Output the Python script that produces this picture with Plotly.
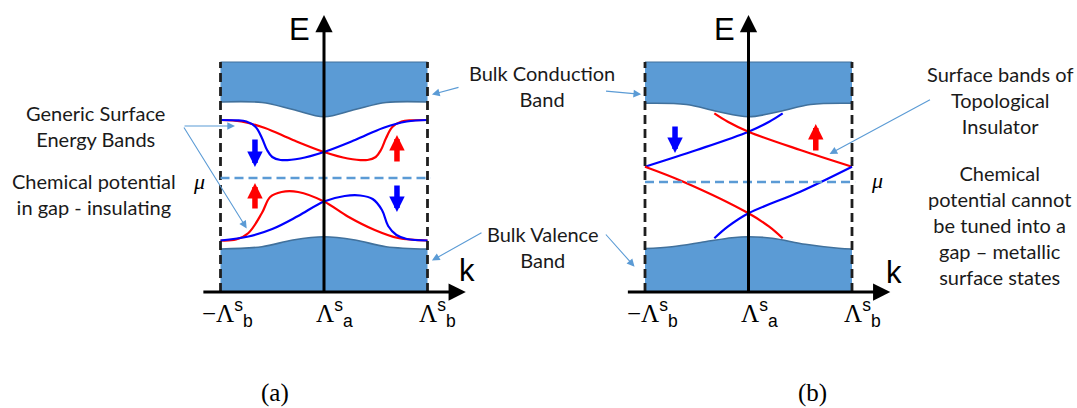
import plotly.graph_objects as go

W, H = 1077, 408

# ---------------- data (k in units of Lambda_b, E in arbitrary units) ----------------
band_top = 2.30
band_floor = 0.0

# panel (a): bulk band edges
k_bulk_a = [-1, -0.6, -0.3, 0, 0.3, 0.6, 1]
cond_edge_a = [1.90, 1.895, 1.825, 1.753, 1.825, 1.895, 1.90]
val_edge_a = [0.43, 0.453, 0.52, 0.553, 0.52, 0.453, 0.43]

# panel (b): bulk band edges
k_cond_b = [-1, -0.6, -0.3, 0, 0.3, 0.6, 1]
cond_edge_b = [1.887, 1.875, 1.805, 1.753, 1.805, 1.875, 1.887]
k_val_b = [-1, -0.74, -0.42, -0.16, 0, 0.23, 0.55, 0.87, 1]
val_edge_b = [0.435, 0.453, 0.503, 0.543, 0.553, 0.537, 0.477, 0.437, 0.43]

# panel (a): generic (trivial) surface bands
k_up_red_a = [-1, -0.8, -0.57, -0.3, 0, 0.23, 0.42, 0.5, 0.55, 0.6, 0.66, 0.75, 0.85, 1]
E_up_red_a = [1.72, 1.705, 1.64, 1.52, 1.40, 1.335, 1.32, 1.35, 1.42, 1.54, 1.65, 1.705, 1.717, 1.72]
k_up_blue_a = [-1, -0.85, -0.75, -0.66, -0.6, -0.55, -0.5, -0.42, -0.23, 0, 0.3, 0.57, 0.8, 1]
E_up_blue_a = [1.72, 1.717, 1.705, 1.65, 1.54, 1.42, 1.35, 1.32, 1.335, 1.40, 1.52, 1.64, 1.705, 1.72]
k_lo_red_a = [-1, -0.85, -0.73, -0.6, -0.52, -0.41, -0.25, 0, 0.23, 0.49, 0.715, 1]
E_lo_red_a = [0.515, 0.525, 0.59, 0.79, 0.95, 1.00, 1.00, 0.905, 0.755, 0.62, 0.54, 0.515]
k_lo_blue_a = [-1, -0.73, -0.5, -0.25, 0, 0.2, 0.35, 0.47, 0.56, 0.62, 0.7, 0.8, 1]
E_lo_blue_a = [0.515, 0.555, 0.63, 0.76, 0.905, 0.96, 0.965, 0.93, 0.82, 0.66, 0.57, 0.53, 0.515]

# panel (b): topological surface bands
k_up_blue_b = [-1, -0.5, 0, 0.2, 0.33]
E_up_blue_b = [1.253, 1.42, 1.603, 1.703, 1.787]
k_up_red_b = [-0.33, -0.2, 0, 0.5, 1]
E_up_red_b = [1.787, 1.703, 1.603, 1.42, 1.253]
k_lo_red_b = [-1, -0.63, 0, 0.2, 0.33]
E_lo_red_b = [1.253, 1.103, 0.787, 0.653, 0.537]
k_lo_blue_b = [-0.33, -0.2, 0, 0.5, 1]
E_lo_blue_b = [0.537, 0.653, 0.787, 1.003, 1.253]

# chemical potentials
mu_a = 1.14
mu_b = 1.10

# spin arrows: (k, E_tail, E_head, colour)
spins_a = [(-0.667, 1.54, 1.25, "#0000ff"), (0.705, 1.29, 1.57, "#ff0000"),
           (-0.667, 0.82, 1.09, "#ff0000"), (0.705, 1.08, 0.80, "#0000ff")]
spins_b = [(-0.71, 1.67, 1.39, "#0000ff"), (0.65, 1.40, 1.68, "#ff0000")]

tick_k = [-1, 0, 1]
tick_text = ["−Λ", "Λ", "Λ"]
tick_sup = ["s", "s", "s"]
tick_sub = ["b", "a", "b"]

BAND_FILL = "#5b9bd5"
BAND_EDGE = "#41719c"
CALLOUT = "#5b9bd5"
TEXT = "#1a1a1a"


def px(x):
    return x / W


def py(y):
    return 1 - y / H


fig = go.Figure()


def add_lines(xa, pairs):
    for k, e, c in pairs:
        fig.add_trace(go.Scatter(x=k, y=e, xaxis=xa, yaxis="y", mode="lines",
                                 line=dict(color=c, width=2.2, shape="spline", smoothing=1),
                                 hoverinfo="skip"))


def add_bands(xa, kc, ec, kv, ev):
    # conduction band: flat top, curved lower edge
    fig.add_trace(go.Scatter(x=[-1, 1], y=[band_top, band_top], xaxis=xa, yaxis="y",
                             mode="lines", line=dict(color=BAND_EDGE, width=1), hoverinfo="skip"))
    fig.add_trace(go.Scatter(x=kc, y=ec, xaxis=xa, yaxis="y", mode="lines", fill="tonexty",
                             fillcolor=BAND_FILL,
                             line=dict(color=BAND_EDGE, width=1.6, shape="spline", smoothing=1),
                             hoverinfo="skip"))
    # valence band: curved upper edge, flat floor
    fig.add_trace(go.Scatter(x=[-1, 1], y=[band_floor, band_floor], xaxis=xa, yaxis="y",
                             mode="lines", line=dict(color=BAND_FILL, width=0), hoverinfo="skip"))
    fig.add_trace(go.Scatter(x=kv, y=ev, xaxis=xa, yaxis="y", mode="lines", fill="tonexty",
                             fillcolor=BAND_FILL,
                             line=dict(color=BAND_EDGE, width=1.6, shape="spline", smoothing=1),
                             hoverinfo="skip"))


def add_frame(xa, mu):
    for kb in (-1, 1):
        fig.add_trace(go.Scatter(x=[kb, kb], y=[band_floor, band_top], xaxis=xa, yaxis="y",
                                 mode="lines", line=dict(color="#1e1e1e", width=2.8, dash="9px,5px"),
                                 hoverinfo="skip"))
    fig.add_trace(go.Scatter(x=[-1, 1.03], y=[mu, mu], xaxis=xa, yaxis="y", mode="lines",
                             line=dict(color=BAND_FILL, width=2.6, dash="9px,5px"),
                             hoverinfo="skip"))


# panel (a)
add_lines("x", [(k_up_red_a, E_up_red_a, "#ff0000"), (k_up_blue_a, E_up_blue_a, "#0000ff"),
                (k_lo_red_a, E_lo_red_a, "#ff0000"), (k_lo_blue_a, E_lo_blue_a, "#0000ff")])
add_bands("x", k_bulk_a, cond_edge_a, k_bulk_a, val_edge_a)
add_frame("x", mu_a)

# panel (b)
add_lines("x2", [(k_up_blue_b, E_up_blue_b, "#0000ff"), (k_up_red_b, E_up_red_b, "#ff0000"),
                 (k_lo_red_b, E_lo_red_b, "#ff0000"), (k_lo_blue_b, E_lo_blue_b, "#0000ff")])
add_bands("x2", k_cond_b, cond_edge_b, k_val_b, val_edge_b)
add_frame("x2", mu_b)

ann = []


def arrow(xa, x, y, ax, ay, color, width, size, head=2):
    ann.append(dict(xref=xa, yref="y", axref=xa, ayref="y", x=x, y=y, ax=ax, ay=ay,
                    text="", showarrow=True, arrowhead=head, arrowsize=size,
                    arrowwidth=width, arrowcolor=color, standoff=0))


for xa in ("x", "x2"):
    # energy and momentum axes
    arrow(xa, 0, 2.77, 0, -0.01, "#000000", 3, 1.15)
    arrow(xa, 1.37, 0, -1.18, 0, "#000000", 3, 1.15)

for k, e0, e1, c in spins_a:
    arrow("x", k, e1, k, e0, c, 5.5, 0.56)
for k, e0, e1, c in spins_b:
    arrow("x2", k, e1, k, e0, c, 5.5, 0.56)

# callout arrows
arrow("x", -0.86, 1.66, -1.362, 1.66, CALLOUT, 1.1, 1.4)
arrow("x", -0.747, 0.635, -1.362, 1.66, CALLOUT, 1.1, 1.4)
arrow("x", 1.043, 1.975, 1.314, 2.05, CALLOUT, 1.1, 1.4)
arrow("x2", -1.037, 1.977, -1.391, 2.01, CALLOUT, 1.1, 1.4)
arrow("x", 1.043, 0.315, 1.536, 0.60, CALLOUT, 1.1, 1.4)
arrow("x2", -1.101, 0.253, -1.391, 0.59, CALLOUT, 1.1, 1.4)
arrow("x2", 0.783, 1.38, 1.768, 1.93, CALLOUT, 1.1, 1.4)


def label(text, x, y, size, family, color=TEXT):
    ann.append(dict(xref="paper", yref="paper", x=px(x), y=py(y), text=text, showarrow=False,
                    xanchor="center", yanchor="middle",
                    font=dict(size=size, family=family, color=color)))


SANS = "Lato"
label("Generic Surface<br>Energy Bands", 95, 126, 20, SANS)
label("Chemical potential<br>in gap - insulating", 94, 194, 20, SANS)
label("Bulk Conduction<br>Band", 542, 86, 20, SANS)
label("Bulk Valence<br>Band", 543, 247, 20, SANS)
label("Surface bands of<br>Topological<br>Insulator", 1000, 99.5, 20, SANS)
label("Chemical<br>potential cannot<br>be tuned into a<br>gap – metallic<br>surface states",
      999, 225, 20, SANS)

label("E", 299, 30, 31, "Liberation Sans", "#000000")
label("E", 724, 30, 31, "Liberation Sans", "#000000")
label("k", 467, 270, 31, "Liberation Sans", "#000000")
label("k", 894, 272, 31, "Liberation Sans", "#000000")
label("<i>μ</i>", 199, 181, 22, "Liberation Serif", "#000000")
label("<i>μ</i>", 877, 180, 22, "Liberation Serif", "#000000")
label("(a)", 275, 393, 25, "Liberation Serif", "#000000")
label("(b)", 812, 393, 25, "Liberation Serif", "#000000")

for xa, shifts in (("x", (7, 10, 10)), ("x2", (7, 11, 10))):
    for k, base, sp, sb, sh in zip(tick_k, tick_text, tick_sup, tick_sub, shifts):
        ann.append(dict(xref=xa, yref="y", x=k, y=-0.21, xshift=sh, showarrow=False,
                        xanchor="center", yanchor="middle",
                        text=f"<span style='font-family:Liberation Serif'>{base}</span>"
                             f"<sup>{sp}</sup><sub>{sb}</sub>",
                        font=dict(size=25, family="Liberation Sans", color="#000000")))

fig.update_layout(
    width=W, height=H, margin=dict(l=0, r=0, t=0, b=0),
    paper_bgcolor="white", plot_bgcolor="white", showlegend=False,
    xaxis=dict(domain=[117 / W, 531 / W], range=[-2, 2], visible=False, fixedrange=True),
    xaxis2=dict(domain=[541.5 / W, 955.5 / W], range=[-2, 2], visible=False,
                anchor="y", fixedrange=True),
    yaxis=dict(domain=[0, 1], range=[-1.16, 2.92], visible=False, fixedrange=True),
    annotations=ann,
)

fig.write_html("out.html")
